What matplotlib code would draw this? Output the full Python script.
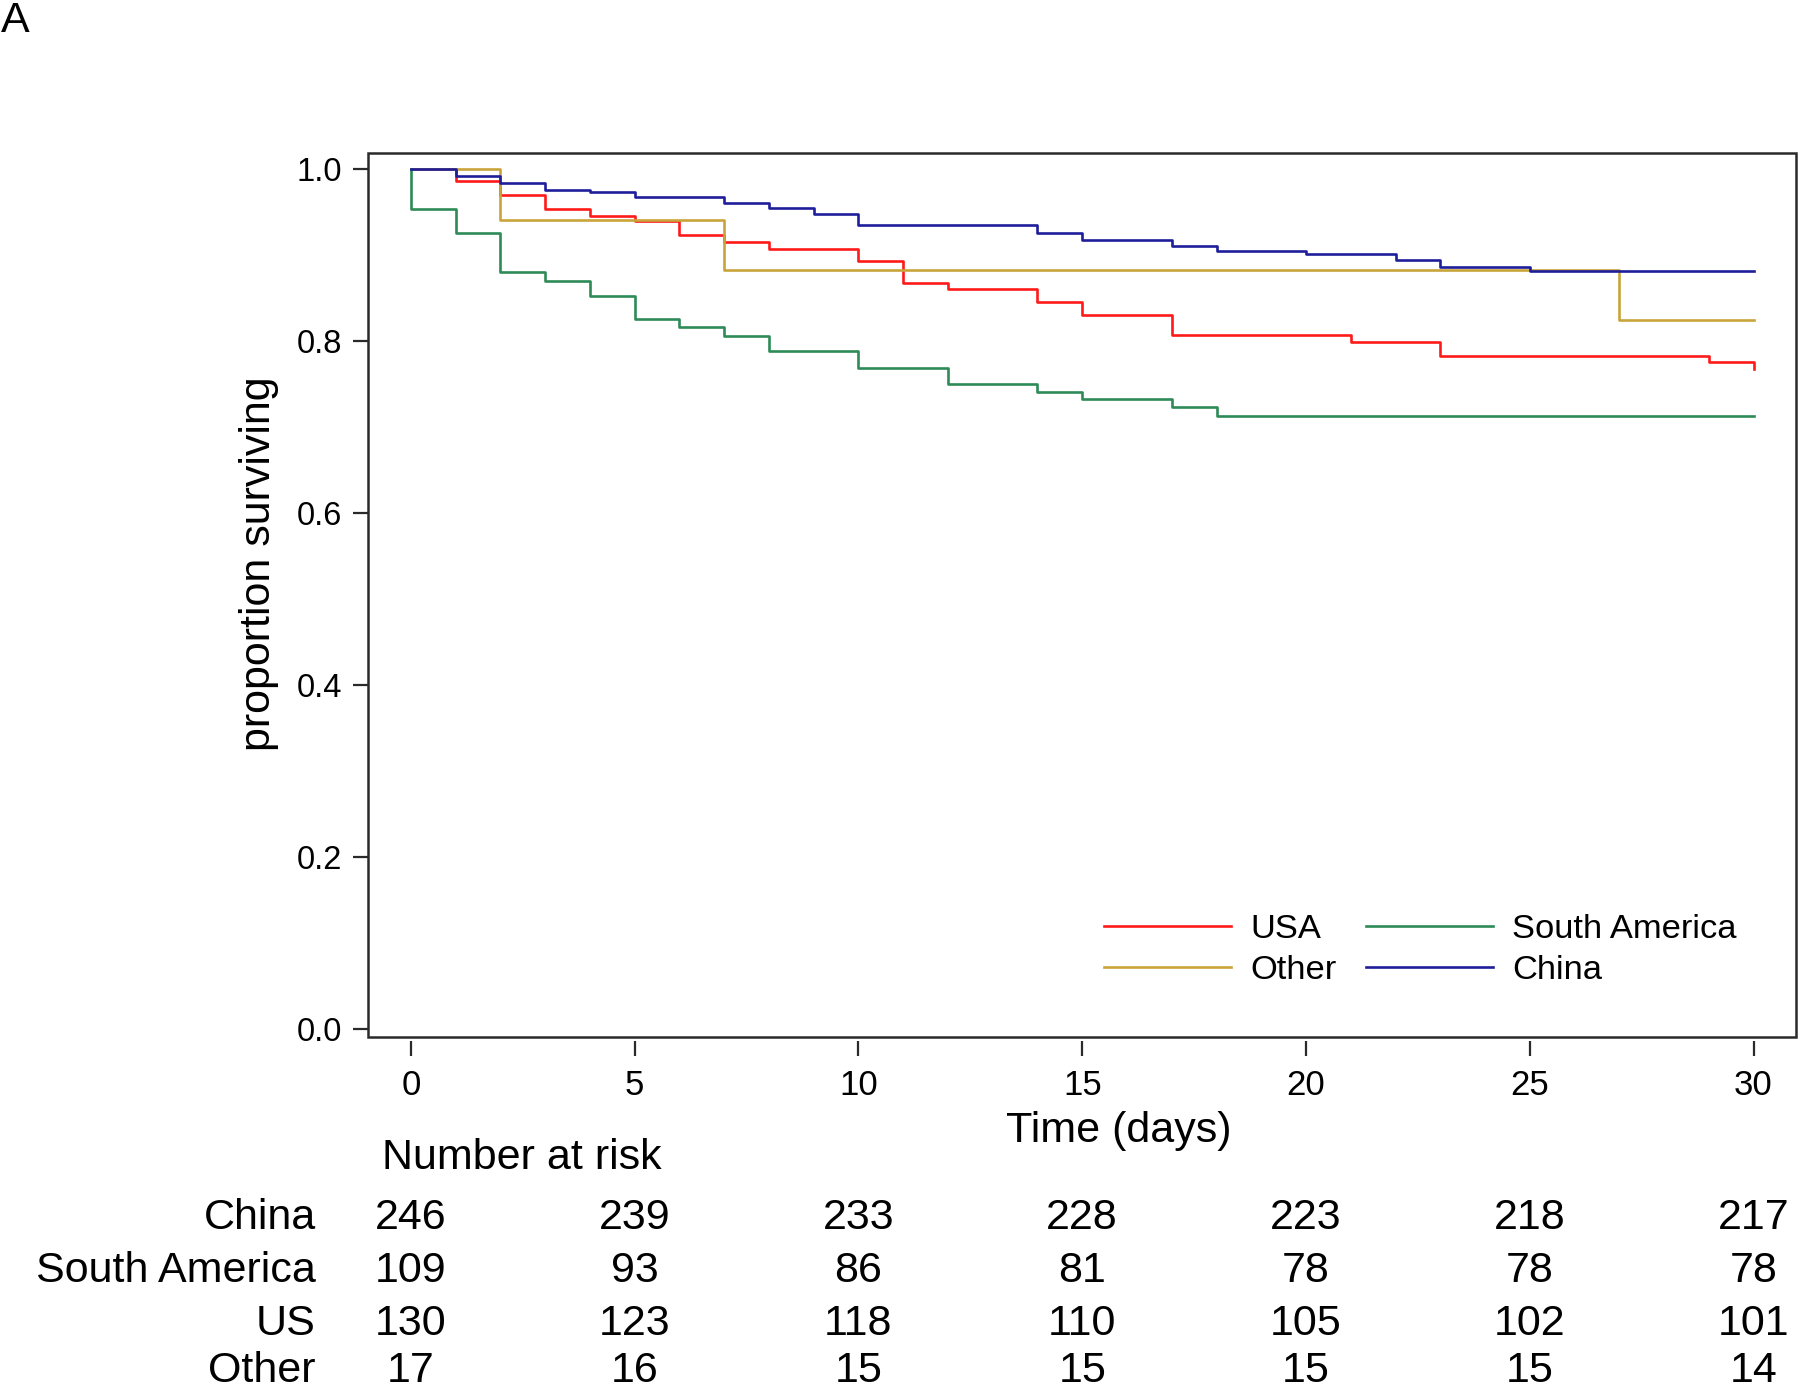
import matplotlib
matplotlib.use('Agg')
import matplotlib.pyplot as plt
import matplotlib.transforms as mtransforms
from matplotlib.patches import Rectangle

plt.rcParams['font.family'] = ['Liberation Sans', 'DejaVu Sans']

# Kaplan-Meier step curves (day, proportion surviving)
usa_t = [0, 1, 2, 3, 4, 5, 6, 7, 8, 10, 11, 12, 14, 15, 17, 21, 23, 29, 30]
usa_s = [1.0, 0.986, 0.970, 0.954, 0.945, 0.939, 0.923, 0.915, 0.907, 0.893,
         0.868, 0.861, 0.845, 0.830, 0.807, 0.799, 0.782, 0.776, 0.767]

other_t = [0, 2, 7, 27, 30]
other_s = [1.0, 0.941, 0.882, 0.824, 0.824]

sam_t = [0, 0, 1, 2, 3, 4, 5, 6, 7, 8, 10, 12, 14, 15, 17, 18, 30]
sam_s = [1.0, 0.954, 0.926, 0.880, 0.870, 0.852, 0.825, 0.816, 0.806, 0.788,
         0.769, 0.750, 0.741, 0.732, 0.723, 0.713, 0.713]

china_t = [0, 1, 2, 3, 4, 5, 7, 8, 9, 10, 14, 15, 17, 18, 20, 22, 23, 25, 30]
china_s = [1.0, 0.992, 0.984, 0.976, 0.973, 0.968, 0.960, 0.955, 0.948, 0.935,
           0.926, 0.918, 0.910, 0.905, 0.901, 0.894, 0.886, 0.881, 0.881]

# number at risk table
risk_days = [0, 5, 10, 15, 20, 25, 30]
risk_groups = ['China', 'South America', 'US', 'Other']
risk_china = [246, 239, 233, 228, 223, 218, 217]
risk_sam = [109, 93, 86, 81, 78, 78, 78]
risk_us = [130, 123, 118, 110, 105, 102, 101]
risk_other = [17, 16, 15, 15, 15, 15, 14]

xticks = [0, 5, 10, 15, 20, 25, 30]
yticks = [0.0, 0.2, 0.4, 0.6, 0.8, 1.0]

c_usa = '#FF1A1A'
c_other = '#C9A43A'
c_sam = '#2E8B57'
c_china = '#1E1E9A'

fig = plt.figure(figsize=(18, 13.88), dpi=100)
ax = fig.add_axes([0.2047, 0.2532, 0.7931, 0.6368])

lw = 1.9
ax.step(usa_t, usa_s, where='post', color=c_usa, lw=lw, label='USA')
ax.step(other_t, other_s, where='post', color=c_other, lw=lw, label='Other')
ax.step(sam_t, sam_s, where='post', color=c_sam, lw=lw, label='South America')
ax.step(china_t, china_s, where='post', color=c_china, lw=lw, label='China')

ax.set_xlim(-0.95, 30.95)
ax.set_ylim(-0.009, 1.019)
ax.set_xticks(xticks)
ax.set_xticklabels([str(v) for v in xticks])
ax.set_yticks(yticks)
ax.set_yticklabels(['%.1f' % v for v in yticks])

for s in ax.spines.values():
    s.set_visible(False)
ax.spines['bottom'].set_position(('outward', 3))
ax.add_patch(Rectangle((0, 0), 1, 1, transform=ax.transAxes, fill=False,
                       ec='#2a2a2a', lw=1.8, clip_on=False, zorder=5))
ax.tick_params(axis='both', color='#2a2a2a', width=1.6, length=11)
ax.tick_params(axis='x', pad=9, labelsize=25)
ax.tick_params(axis='y', pad=8, labelsize=23.5)

ax.set_ylabel('proportion surviving', fontsize=31)
ax.yaxis.set_label_coords(-0.063, 0.535)

leg = ax.legend(ncol=2, frameon=False, fontsize=24.8, loc='lower right',
                bbox_to_anchor=(0.98, 0.022), handlelength=3.7,
                handletextpad=0.55, columnspacing=0.85, labelspacing=0.28)

fig.text(0.6217, 0.185, 'Time (days)', fontsize=31, ha='center', va='center')
fig.text(0.2122, 0.1656, 'Number at risk', fontsize=31, ha='left',
         va='center')
fig.text(0.0005, 0.999, 'A', fontsize=31, ha='left', va='top')

trans = mtransforms.blended_transform_factory(ax.transData, fig.transFigure)
row_y = [0.1224, 0.0844, 0.0464, 0.0125]
rows = [risk_china, risk_sam, risk_us, risk_other]
for name, vals, yy in zip(risk_groups, rows, row_y):
    fig.text(0.1754, yy, name, fontsize=31, ha='right', va='center')
    for d, v in zip(risk_days, vals):
        ax.text(d, yy, str(v), fontsize=31, ha='center', va='center',
                transform=trans, clip_on=False)

fig.savefig('out.png', dpi=100, facecolor='white')
